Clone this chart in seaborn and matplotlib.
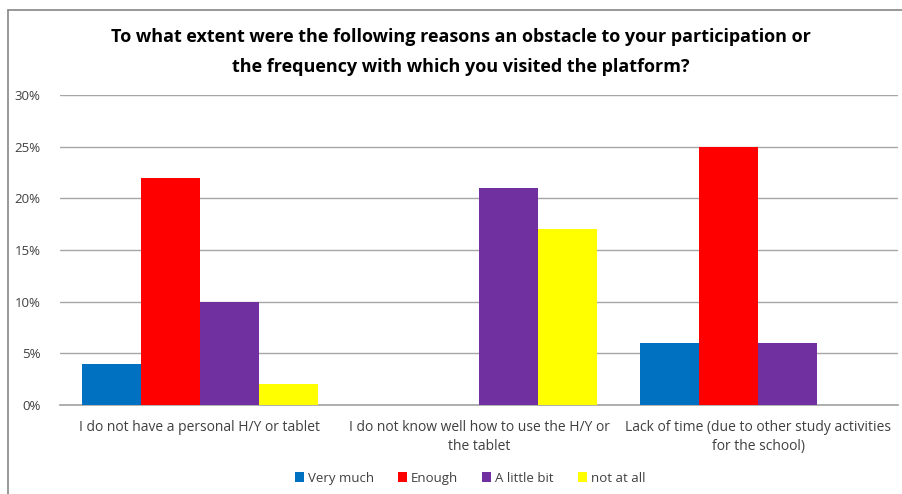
import matplotlib
matplotlib.use("Agg")
import matplotlib.pyplot as plt
import seaborn as sns
import pandas as pd
from matplotlib.lines import Line2D
from matplotlib.patches import Patch

categories = [
    "I do not have a personal H/Y or tablet",
    "I do not know well how to use the H/Y or\nthe tablet",
    "Lack of time (due to other study activities\nfor the school)",
]
series = ["Very much", "Enough", "A little bit", "not at all"]
very_much = [4, 0, 6]
enough = [22, 0, 25]
a_little_bit = [10, 21, 6]
not_at_all = [2, 17, 0]
colors = ["#0070C0", "#FF0000", "#7030A0", "#FFFF00"]
yticks = [0, 5, 10, 15, 20, 25, 30]

rows = []
for s, vals in zip(series, [very_much, enough, a_little_bit, not_at_all]):
    for c, v in zip(categories, vals):
        rows.append({"category": c, "series": s, "value": v})
df = pd.DataFrame(rows)

sns.set_theme(style="white")
plt.rcParams["font.family"] = ["Open Sans", "DejaVu Sans"]

W, H = 903, 494
fig = plt.figure(figsize=(W / 100, H / 100), dpi=100)
ax = fig.add_axes([60 / W, (H - 405) / H, 838 / W, 310 / H])

sns.barplot(data=df, x="category", y="value", hue="series", hue_order=series,
            order=categories, palette=colors, width=0.845, dodge=True,
            saturation=1, ax=ax, legend=False, linewidth=0, zorder=3)

ax.set_ylim(0, 30)
ax.set_xlim(-0.5, 2.5)
ax.set_yticks(yticks)
ax.set_yticklabels([f"{t}%" for t in yticks], fontsize=9.5, color="#404040")
ax.yaxis.grid(True, color="#A6A6A6", linewidth=1)
ax.set_axisbelow(True)
for sp in ["top", "right", "left"]:
    ax.spines[sp].set_visible(False)
ax.spines["bottom"].set_color("#A6A6A6")
ax.tick_params(axis="y", length=0, pad=14)
ax.tick_params(axis="x", length=0, pad=11)
ax.set_xticks(range(len(categories)))
ax.set_xticklabels(categories, fontsize=10, color="#404040", linespacing=1.3)
ax.set_xlabel("")
ax.set_ylabel("")

fig.text(461 / W, 1 - 52 / H,
         "To what extent were the following reasons an obstacle to your participation or\n"
         "the frequency with which you visited the platform?",
         ha="center", va="center", fontsize=13, fontweight="bold", linespacing=1.8,
         color="black")

handles = [Patch(facecolor=c, edgecolor="none") for c in colors]
fig.legend(handles, series, loc="center", bbox_to_anchor=(470 / W, 1 - 478 / H),
           ncol=4, frameon=False, fontsize=9.5, handlelength=0.7, handleheight=0.7,
           handletextpad=0.3, columnspacing=1.8, labelcolor="#404040")

fig.add_artist(Line2D([8 / W, 8 / W], [0, 1 - 10 / H], transform=fig.transFigure,
                      color="#868686", linewidth=1.2))
fig.add_artist(Line2D([8 / W, 1], [1 - 10 / H, 1 - 10 / H], transform=fig.transFigure,
                      color="#868686", linewidth=1.2))

fig.savefig("out.png", dpi=100)
